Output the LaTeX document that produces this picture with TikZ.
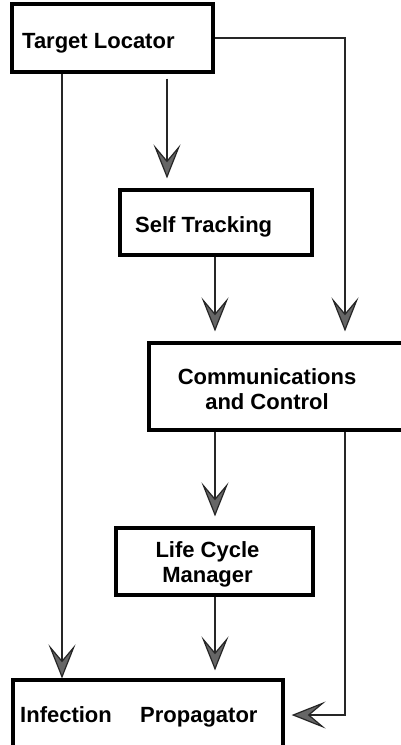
\documentclass[tikz,border=0pt]{standalone}
\usepackage{fontspec}
\setmainfont{Liberation Sans}
\usetikzlibrary{arrows.meta}
\tikzset{
  box/.style={draw=black, line width=3.2pt, inner sep=0pt},
  lbl/.style={inner sep=0pt, font=\bfseries\fontsize{22}{25}\selectfont, align=center},
  conn/.style={draw=black!85, line width=2.4pt,
    -{Stealth[length=34pt,width=27pt,inset=16pt,color=black!85,fill=black!60,line width=1.2pt]}}
}
\begin{document}
\begin{tikzpicture}[x=1pt,y=-1pt]
\useasboundingbox (0,0) rectangle (400,745);

% boxes
\node[box, minimum width=201pt, minimum height=68pt] (target) at (112.5,38) {};
\node[box, minimum width=192pt, minimum height=65pt] (selft)  at (216,222.5) {};
\node[box, minimum width=261pt, minimum height=87pt] (comm)   at (279.5,386.5) {};
\node[box, minimum width=197pt, minimum height=67pt] (lcm)    at (214.5,561.5) {};
\node[box, minimum width=270pt, minimum height=90pt] (inf)    at (148,725) {};

% texts
\node[lbl, anchor=base west] (target-t) at (22,48) {Target Locator};
\node[lbl, anchor=base west] (selft-t) at (135,232) {Self Tracking};
\node[lbl] (comm-t) at (267,389) {Communications\\and Control};
\node[lbl] (lcm-t) at (207.5,564) {Life Cycle\\Manager};
\node[lbl, anchor=base west] (inf-t1) at (20,722) {Infection};
\node[lbl, anchor=base west] (inf-t2) at (140,722) {Propagator};

% connector columns and rows
\coordinate (xL) at (62,0);
\coordinate (xM) at (167,0);
\coordinate (xC) at (215,0);
\coordinate (xR) at (345,0);
\coordinate (yI) at (0,715);

% connectors
\draw[conn] (target.south -| xL) -- (inf.north -| xL);
\draw[conn, shorten <=5pt, shorten >=10pt] (target.south -| xM) -- (selft.north -| xM);
\draw[conn, shorten >=10pt] (target.east) -| (comm.north -| xR);
\draw[conn, shorten >=10pt] (selft.south -| xC) -- (comm.north -| xC);
\draw[conn, shorten >=10pt] (comm.south -| xC) -- (lcm.north -| xC);
\draw[conn, shorten >=8pt] (lcm.south -| xC) -- (inf.north -| xC);
\draw[conn, shorten >=7pt] (comm.south -| xR) |- (inf.east |- yI);
\end{tikzpicture}
\end{document}
